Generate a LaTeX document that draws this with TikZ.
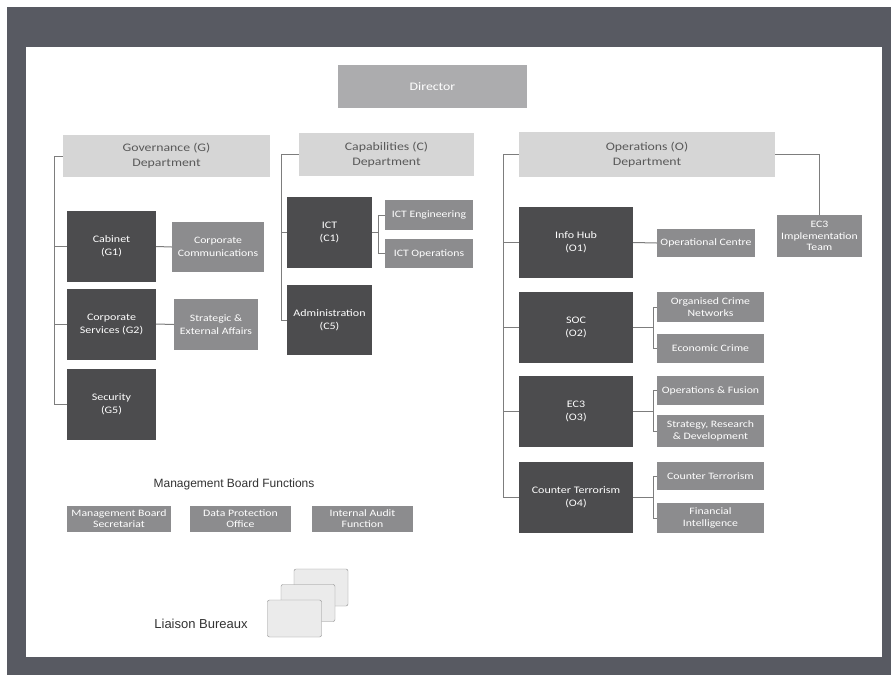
\documentclass[tikz,border=0pt]{standalone}
\usepackage{fontspec}
\setmainfont{Carlito}[FakeStretch=1.2]
\newfontfamily\plainfont{Liberation Sans}
\usepackage{tikz}
\usetikzlibrary{arrows}

\definecolor{frame}{RGB}{88,90,98}
\definecolor{darkunit}{RGB}{76,76,78}
\definecolor{midunit}{RGB}{140,140,142}
\definecolor{dirfill}{RGB}{172,172,174}
\definecolor{deptfill}{RGB}{214,214,214}
\definecolor{wirecol}{RGB}{125,125,125}

\begin{document}
\begin{tikzpicture}[x=1pt,y=-1pt,
        unit/.style={fill=darkunit,text=white,align=center,inner sep=1pt,
          minimum width=89pt,minimum height=71pt,font=\fontsize{10}{13}\selectfont},
        sub/.style={fill=midunit,text=white,align=center,inner sep=0pt,
          minimum width=107pt,minimum height=29pt,font=\fontsize{9.8}{12.5}\selectfont},
        dept/.style={fill=deptfill,text=black!65,align=center,inner sep=1pt,
          minimum height=43pt,font=\fontsize{11.5}{15}\selectfont},
        wire/.style={draw=wirecol,line width=1pt},
        card/.style={draw=black!45,fill=black!8,rounded corners=2pt,
          minimum width=54pt,minimum height=37pt}]

  \useasboundingbox (0,0) rectangle (891,675);
  \fill[frame] (7,7) rectangle (891,675);
  \fill[white] (26,47) rectangle (882,657);

  \node[dept,fill=dirfill,text=white,minimum width=189pt] (dir) at (432.5,86.5) {Director};

  % departments
  \node[dept,minimum width=207pt,minimum height=42pt] (gov) at (166.5,156) {Governance (G)\\Department};
  \node[dept,minimum width=175pt] (cap) at (386.5,154.5) {Capabilities (C)\\Department};
  \node[dept,minimum width=256pt,minimum height=45pt] (ops) at (647,154.5) {Operations (O)\\Department};

  % governance
  \node[unit] (g1) at (111.5,246.5) {Cabinet\\(G1)};
  \node[unit,node distance=77.5pt,below of=g1] (g2) {Corporate\\Services (G2)};
  \node[unit,node distance=80pt,below of=g2] (g5) {Security\\(G5)};
  \node[sub,minimum width=92pt,minimum height=50pt] (comm) at (218,247) {Corporate\\Communications};
  \node[sub,minimum width=84pt,minimum height=51pt] (strat) at (216,324.5) {Strategic \&\\External Affairs};

  % capabilities
  \node[unit,minimum width=85pt] (c1) at (329.5,232.5) {ICT\\(C1)};
  \node[unit,minimum width=85pt,minimum height=70pt,node distance=87.5pt,below of=c1] (c5) {Administration\\(C5)};
  \node[sub,minimum width=88pt,minimum height=30pt] (icte) at (429,215) {ICT Engineering};
  \node[sub,minimum width=88pt,node distance=38.5pt,below of=icte] (icto) {ICT Operations};

  % operations
  \node[unit,minimum width=114pt] (o1) at (576,242.5) {Info Hub\\(O1)};
  \node[unit,minimum width=114pt,node distance=84.5pt,below of=o1] (o2) {SOC\\(O2)};
  \node[unit,minimum width=114pt,node distance=84.5pt,below of=o2] (o3) {EC3\\(O3)};
  \node[unit,minimum width=114pt,node distance=86pt,below of=o3] (o4) {Counter Terrorism\\(O4)};
  \node[sub,minimum width=98pt,minimum height=28pt] (opc) at (706,243) {Operational Centre};
  \node[sub,minimum width=85pt,minimum height=42pt,font=\fontsize{9.8}{11.5}\selectfont] (ec3t) at (819.5,236) {EC3\\Implementation\\Team};
  \node[sub,minimum height=30pt,font=\fontsize{9.8}{11.5}\selectfont] (ocn) at (710.5,307) {Organised Crime\\Networks};
  \node[sub] (econ) at (710.5,348.5) {Economic Crime};
  \node[sub] (fusion) at (710.5,390.5) {Operations \& Fusion};
  \node[sub,minimum height=32pt,font=\fontsize{9.8}{11.5}\selectfont] (srd) at (710.5,431) {Strategy, Research\\\& Development};
  \node[sub,minimum height=28pt] (ct) at (710.5,476) {Counter Terrorism};
  \node[sub,minimum height=30pt,font=\fontsize{9.8}{11.5}\selectfont] (fin) at (710.5,518) {Financial\\Intelligence};

  % management board
  \node[font=\plainfont\fontsize{12}{14}\selectfont,text=black!80] (mbf) at (234,484) {Management Board Functions};
  \node[sub,minimum width=104pt,minimum height=26pt,font=\fontsize{9.8}{11}\selectfont] (mbs) at (119,519) {Management Board\\Secretariat};
  \node[sub,minimum width=101pt,minimum height=26pt,font=\fontsize{9.8}{11}\selectfont] (dpo) at (240.5,519) {Data Protection\\Office};
  \node[sub,minimum width=101pt,minimum height=26pt,font=\fontsize{9.8}{11}\selectfont] (iaf) at (362.5,519) {Internal Audit\\Function};

  \node[card] (lb3) at (321,587.5) {};
  \node[card] (lb2) at (308,603) {};
  \node[card] (lb1) at (294.5,618.5) {};
  \node[font=\plainfont\fontsize{13}{15}\selectfont,text=black!80] (lb) at (201,624) {Liaison Bureaux};

  % connectors
  \draw[wire] (gov.west) -- ++(-8,0) coordinate (gbus) |- (g5.west);
  \draw[wire] (gbus) |- (g1.west);
  \draw[wire] (gbus) |- (g2.west);
  \draw[wire] (g1.east) -- (comm.west);
  \draw[wire] (g2.east) -- (strat.west);

  \draw[wire] (cap.west) -- ++(-17,0) coordinate (cbus) |- (c5.west);
  \draw[wire] (cbus) |- (c1.west);
  \draw[wire] (c1.east) -- ++(6,0) coordinate (ictbus) |- (icte.west);
  \draw[wire] (ictbus) |- (icto.west);

  \draw[wire] (ops.west) -- ++(-15,0) coordinate (obus) |- (o4.west);
  \foreach \u in {o1,o2,o3}
    \draw[wire] (obus) |- (\u.west);
  \draw[wire] (ops.east) -| (ec3t.north);
  \draw[wire] (o1.east) -- (opc.west);
  \draw[wire] (o2.east) -- ++(20,0) coordinate (sbus) |- (ocn.west);
  \draw[wire] (sbus) |- (econ.west);
  \draw[wire] (o3.east) -- ++(20,0) coordinate (ebus) |- (fusion.west);
  \draw[wire] (ebus) |- (srd.west);
  \draw[wire] (o4.east) -- ++(20,0) coordinate (tbus) |- (ct.west);
  \draw[wire] (tbus) |- (fin.west);

\end{tikzpicture}
\end{document}
